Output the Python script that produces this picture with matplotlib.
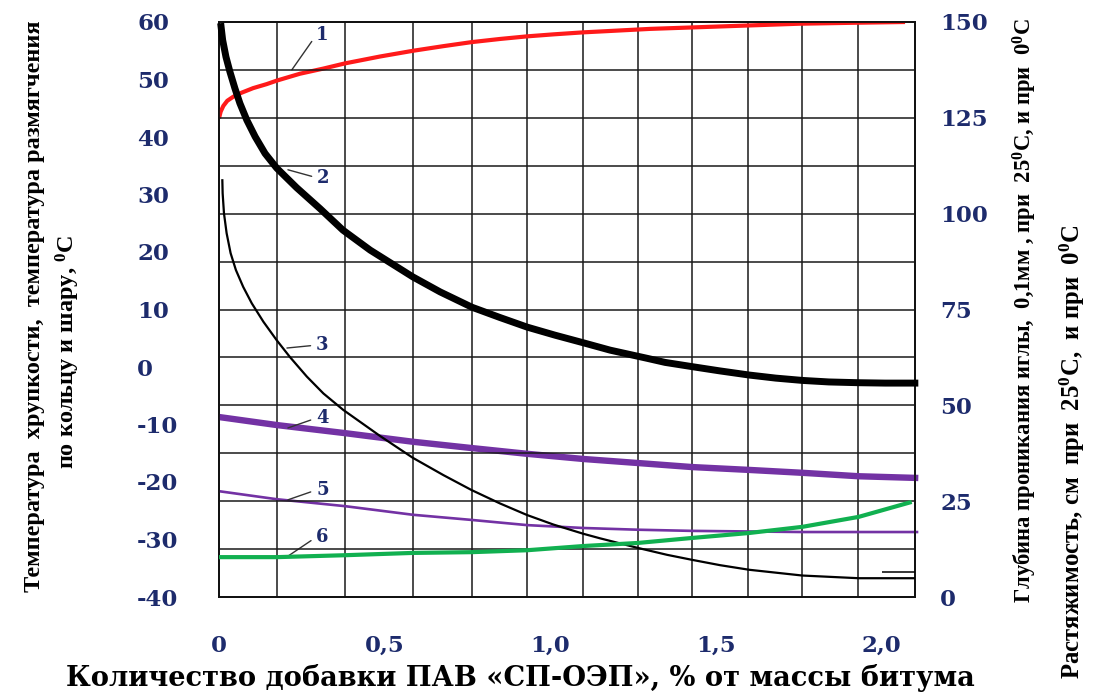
import matplotlib
matplotlib.use("Agg")
import matplotlib.pyplot as plt
import numpy as np

plt.rcParams['mathtext.fontset'] = 'custom'
plt.rcParams['mathtext.rm'] = 'Liberation Serif:bold'
plt.rcParams['mathtext.bf'] = 'Liberation Serif:bold'
plt.rcParams['mathtext.it'] = 'Liberation Serif:bold:italic'

# ---------------- data ----------------
# x: amount of additive, % of bitumen mass
x1 = [0.0, 0.005, 0.013, 0.025, 0.043, 0.068, 0.103, 0.144, 0.174, 0.244, 0.315, 0.380,
      0.486, 0.586, 0.677, 0.762, 0.848, 0.929, 1.009, 1.099, 1.15, 1.30, 1.45, 1.60,
      1.75, 1.90, 2.07]
y1 = [43.25, 44.4, 45.4, 46.3, 47.0, 47.7, 48.5, 49.2, 49.8, 51.0, 51.9, 52.8,
      54.0, 55.0, 55.8, 56.5, 57.05, 57.5, 57.85, 58.2, 58.35, 58.8, 59.1, 59.4,
      59.7, 59.85, 60.0]                                                  # left axis, °C

x2 = [0.005, 0.011, 0.021, 0.033, 0.048, 0.063, 0.084, 0.109, 0.139, 0.174, 0.234, 0.305,
      0.374, 0.456, 0.585, 0.667, 0.763, 0.848, 0.93, 1.014, 1.10, 1.18, 1.29, 1.346,
      1.427, 1.51, 1.60, 1.68, 1.76, 1.84, 1.93, 2.01, 2.11]
y2 = [149.7, 145.3, 140.9, 137.0, 132.7, 128.8, 124.4, 120.1, 115.7, 111.9, 106.8, 101.3,
      95.7, 90.5, 83.5, 79.6, 75.6, 72.9, 70.4, 68.3, 66.3, 64.4, 62.3, 61.2,
      60.1, 59.0, 57.9, 57.1, 56.5, 56.1, 55.9, 55.8, 55.8]              # right axis

x3 = [0.010, 0.011, 0.015, 0.023, 0.035, 0.051, 0.073, 0.099, 0.134, 0.174, 0.214, 0.265,
      0.315, 0.375, 0.486, 0.585, 0.677, 0.762, 0.848, 0.929, 1.009, 1.099, 1.15, 1.264,
      1.352, 1.427, 1.512, 1.60, 1.76, 1.93, 2.10]
y3 = [109.0, 105.3, 100.1, 94.9, 89.7, 85.3, 80.9, 76.6, 71.8, 67.0, 62.6, 57.5,
      53.1, 48.8, 42.0, 36.3, 31.8, 27.9, 24.4, 21.4, 18.9, 16.5, 15.3, 12.8,
      11.0, 9.7, 8.3, 7.1, 5.6, 4.9, 4.9]                                 # right axis

x4 = [0.0, 0.175, 0.38, 0.585, 0.763, 0.93, 1.10, 1.264, 1.427, 1.60, 1.76, 1.93, 2.11]
y4 = [-8.7, -10.1, -11.5, -13.0, -14.1, -15.1, -16.0, -16.7, -17.4, -17.9, -18.4, -19.0, -19.3]  # left

x5 = [0.0, 0.175, 0.38, 0.585, 0.763, 0.93, 1.10, 1.264, 1.427, 1.76, 2.11]
y5 = [-21.6, -23.0, -24.2, -25.7, -26.6, -27.5, -28.0, -28.3, -28.5, -28.7, -28.7]      # left

x6 = [0.0, 0.175, 0.38, 0.585, 0.763, 0.93, 1.10, 1.264, 1.427, 1.60, 1.76, 1.93, 2.09]
y6 = [10.4, 10.4, 10.9, 11.5, 11.7, 12.2, 13.3, 14.1, 15.4, 16.7, 18.3, 20.9, 24.8]     # right

left_ticks = [-40, -30, -20, -10, 0, 10, 20, 30, 40, 50, 60]
right_ticks = [0, 25, 50, 75, 100, 125, 150]
x_ticks = [0, 0.5, 1.0, 1.5, 2.0]
x_ticklabels = ['0', '0,5', '1,0', '1,5', '2,0']
curve_names = ['1', '2', '3', '4', '5', '6']

# ---------------- layout / style ----------------
W, H = 1096, 700
fig = plt.figure(figsize=(W / 100, H / 100), dpi=100)
L, R, T, B = 219, 915, 22, 597
ax = fig.add_axes([L / W, 1 - B / H, (R - L) / W, (B - T) / H])
ax.set_xlim(0, 2.1)
ax.set_ylim(-40, 60)
ax2 = ax.twinx()
ax2.set_ylim(0, 150)

navy = '#1d2b6c'
grid_x = [0.175, 0.380, 0.585, 0.763, 0.929, 1.098, 1.264, 1.427, 1.596, 1.759, 1.928]
for gx in grid_x:
    ax.axvline(gx, color='#1a1a1a', lw=1.1, zorder=0)
for gy in np.arange(12.5, 150, 12.5):
    ax2.axhline(gy, color='#1a1a1a', lw=1.1, zorder=0)

for a in (ax, ax2):
    for s in a.spines.values():
        s.set_linewidth(1.3)
        s.set_color('#111111')

red, purple, green = '#ff1a1a', '#7332a4', '#11b050'
ax.plot(x1, y1, color=red, lw=3.0, solid_capstyle='butt', solid_joinstyle='round', zorder=3)
ax.plot(x4, y4, color=purple, lw=4.6, solid_capstyle='butt', zorder=3, clip_on=False)
ax.plot(x5, y5, color=purple, lw=1.9, solid_capstyle='butt', zorder=3, clip_on=False)
ax2.plot(x2, y2, color='black', lw=5.0, solid_capstyle='butt', solid_joinstyle='round',
         zorder=4, clip_on=False)
ax2.plot(x3, y3, color='black', lw=1.6, solid_capstyle='butt', solid_joinstyle='round', zorder=4)
ax2.plot(x6, y6, color=green, lw=3.0, solid_capstyle='butt', zorder=4)
ax2.hlines(6.5, 2.0, 2.1, color='black', lw=1.1, zorder=4)

# curve numbers with leader lines (positions in left-axis units)
lab_xy = [(0.220, 51.7), (0.208, 34.3), (0.205, 3.3), (0.208, -10.6), (0.208, -23.1), (0.208, -32.9)]
lab_txt = [(0.293, 57.7), (0.296, 32.9), (0.293, 3.8), (0.293, -8.9), (0.293, -21.4), (0.293, -29.6)]
for name, xy, xt in zip(curve_names, lab_xy, lab_txt):
    ax.annotate(name, xy=xy, xytext=xt, ha='left', va='center', color=navy,
                fontsize=13, fontweight='bold', family='DejaVu Serif', zorder=6,
                arrowprops=dict(arrowstyle='-', color='#333333', lw=1.0,
                                relpos=(0, 0.5), shrinkA=2, shrinkB=0))

tick_font = dict(family='DejaVu Serif', weight='bold', size=16.5)
ax.set_yticks(left_ticks)
ax.set_yticklabels([str(v) for v in left_ticks], color=navy, ha='left', **tick_font)
ax.tick_params(axis='y', length=0, pad=59)
ax2.set_yticks(right_ticks)
ax2.set_yticklabels([str(v) for v in right_ticks], color=navy, **tick_font)
ax2.tick_params(axis='y', length=0, pad=18)
ax.set_xticks(x_ticks)
ax.set_xticklabels(x_ticklabels, color=navy, **tick_font)
ax.tick_params(axis='x', length=0, pad=27)

# axis titles
fig.text(520 / W, 1 - 678 / H, 'Количество добавки ПАВ «СП-ОЭП», % от массы битума',
         ha='center', va='center', family='DejaVu Serif', weight='bold', size=19.6)
lab_font = dict(family='Liberation Serif', weight='bold', rotation=90,
                ha='center', va='center')
fig.text(35 / W, 1 - 306 / H, 'Температура  хрупкости,  температура размягчения',
         size=17.5, **lab_font)
fig.text(68 / W, 1 - 352 / H, 'по кольцу и шару, $^{0}$C', size=17.5, **lab_font)
fig.text(1025 / W, 1 - 311 / H, 'Глубина проникания иглы,  0,1мм , при  25$^{0}$C, и при  0$^{0}$C',
         size=16.3, **lab_font)
fig.text(1072 / W, 1 - 452 / H, 'Растяжимость, см  при  25$^{0}$C,  и при  0$^{0}$C',
         size=17.8, **lab_font)

fig.savefig('out.png', dpi=100)
